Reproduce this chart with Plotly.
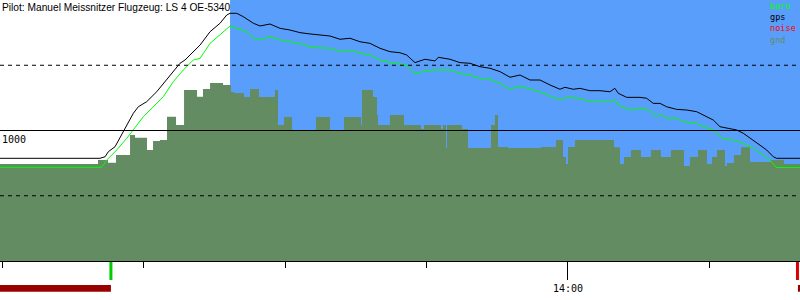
import plotly.graph_objects as go

# ---- data (time in minutes after 13:00, altitude in metres) ----
gnd_t = [-0.3, 10.13, 11.19, 12.04, 13.53, 14.06, 15.33, 15.97, 16.71, 17.45, 18.41, 19.26, 20.64, 21.27,
         22.02, 23.40, 24.24, 24.56, 25.62, 26.26, 27.21, 28.91, 29.23, 29.87, 30.72, 33.26, 34.75, 36.23,
         38.04, 38.14, 39.31, 39.73, 39.84, 41.11, 42.60, 44.40, 44.72, 46.53, 46.74, 47.06, 47.16, 48.75,
         49.39, 51.83, 52.25, 52.57, 53.64, 57.14, 58.73, 59.47, 59.79, 60.0, 60.74, 64.88, 65.52, 65.94,
         66.68, 67.74, 68.80, 69.86, 70.92, 72.31, 72.94, 73.79, 74.75, 75.28, 75.81, 76.66, 76.87, 77.61,
         78.36, 79.31, 81.54, 82.92, 84.7]
gnd_alt = [743, 774, 753, 812, 966, 945, 851, 920, 927, 1106, 1042, 1310, 1259, 1318,
           1364, 1349, 1295, 1287, 1257, 1318, 1257, 1310, 1042, 1103, 1000, 1103, 1000, 1103,
           1042, 1310, 1257, 1119, 1042, 1119, 1042, 1012, 1042, 1012, 1042, 866, 1042, 1012,
           866, 1042, 1119, 874, 866, 874, 927, 797, 743, 874, 927, 871, 743, 797,
           851, 797, 851, 797, 851, 728, 797, 851, 743, 797, 851, 728, 751, 812,
           871, 759, 774, 743, 743]

gps_t = [-0.3, 10.34, 10.88, 11.23, 11.94, 12.82, 13.18, 13.88, 14.41, 15.30, 16.36, 17.42, 18.12, 18.83,
         19.36, 20.96, 22.02, 23.08, 23.79, 24.14, 24.85, 25.55, 26.61, 27.32, 28.38, 29.44, 30.50, 31.56,
         32.62, 34.75, 35.81, 36.87, 37.93, 38.99, 40.05, 41.11, 42.17, 42.88, 43.76, 44.83, 45.89, 46.24,
         47.48, 48.54, 49.60, 50.66, 51.72, 52.79, 53.85, 54.91, 55.97, 57.03, 58.09, 59.15, 59.68, 60.56,
         61.27, 62.33, 63.40, 64.45, 64.98, 65.34, 66.23, 67.64, 68.35, 69.05, 69.76, 70.47, 71.53, 72.59,
         73.66, 74.36, 75.42, 76.13, 76.84, 77.90, 78.60, 79.66, 81.08, 81.78, 82.14, 84.7]
gps_alt = [787, 787, 799, 838, 876, 991, 1029, 1132, 1182, 1221, 1297, 1387, 1451, 1515,
           1540, 1655, 1757, 1822, 1885, 1898, 1898, 1872, 1822, 1801, 1816, 1783, 1770, 1750,
           1740, 1724, 1699, 1707, 1680, 1668, 1630, 1604, 1596, 1579, 1520, 1546, 1533, 1561,
           1546, 1520, 1515, 1489, 1477, 1451, 1408, 1425, 1387, 1387, 1349, 1316, 1331, 1316,
           1323, 1305, 1305, 1297, 1323, 1285, 1254, 1254, 1247, 1208, 1208, 1182, 1162, 1157,
           1144, 1119, 1080, 1029, 1017, 1004, 979, 927, 851, 799, 787, 787]

baro_t = [-0.3, 10.53, 11.06, 12.12, 13.18, 13.88, 14.94, 16.0, 17.06, 18.12, 19.18, 20.24, 20.96, 22.02,
          23.08, 24.14, 24.85, 25.91, 26.61, 27.32, 28.38, 29.44, 30.50, 31.56, 32.62, 34.75, 35.81, 36.87,
          37.93, 38.99, 40.05, 41.11, 42.17, 42.88, 43.76, 44.83, 46.07, 47.48, 48.54, 49.60, 50.66, 51.72,
          52.79, 53.85, 54.91, 55.97, 57.03, 58.09, 59.15, 59.86, 61.27, 62.33, 63.40, 64.63, 64.98, 65.34,
          66.58, 68.35, 69.41, 69.76, 70.47, 71.53, 72.23, 73.66, 74.36, 75.42, 75.78, 76.48, 77.54, 78.60,
          79.66, 80.72, 81.43, 81.96, 82.14, 84.7]
baro_alt = [718, 718, 774, 851, 940, 1004, 1106, 1182, 1259, 1374, 1464, 1540, 1553, 1668,
            1732, 1801, 1783, 1757, 1707, 1694, 1719, 1694, 1680, 1668, 1638, 1630, 1604, 1617,
            1592, 1579, 1540, 1520, 1510, 1502, 1433, 1458, 1464, 1464, 1438, 1425, 1400, 1392,
            1362, 1316, 1341, 1316, 1297, 1264, 1234, 1254, 1247, 1221, 1221, 1221, 1239, 1195,
            1157, 1170, 1106, 1126, 1094, 1094, 1067, 1055, 1029, 1004, 979, 933, 927, 902,
            864, 812, 774, 728, 716, 716]

takeoff_t = 11.5
landing_t = 84.35
task_start_t = 24.14
x_range = [-0.27, 84.62]
alt_range = [0, 2000]
grid_dashed = [500, 1500]
grid_solid = [1000]
major_ticks = [60]
major_labels = ["14:00"]
minor_ticks = [0, 15, 30, 45, 75]
title_text = "Pilot: Manuel Meissnitzer Flugzeug: LS 4 OE-5340"
legend_items = ["baro", "gps", "noise", "gnd"]
legend_colors = ["#00ff00", "#000000", "#ff0000", "#638c63"]

GND = "#638c63"
BLUE = "#5a9efb"
PLOT_H = 261.0  # plot area height in px (paper coords are relative to it)


def below(px):
    """paper-y for a pixel distance below the x-axis line"""
    return -px / PLOT_H


fig = go.Figure()
fig.add_trace(go.Scatter(x=gnd_t, y=gnd_alt, mode="lines", line=dict(width=0, shape="hv"),
                         fill="tozeroy", fillcolor=GND, hoverinfo="skip"))
fig.add_trace(go.Scatter(x=gps_t, y=gps_alt, mode="lines", line=dict(color="black", width=1)))
fig.add_trace(go.Scatter(x=baro_t, y=baro_alt, mode="lines", line=dict(color="#00ff00", width=1)))

shapes = [dict(type="rect", xref="x", yref="y", x0=task_start_t, x1=x_range[1] + 1,
               y0=alt_range[0], y1=alt_range[1], fillcolor=BLUE, line_width=0, layer="below")]
for v in grid_dashed:
    shapes.append(dict(type="line", xref="paper", yref="y", x0=0, x1=1, y0=v, y1=v,
                       line=dict(color="black", width=1, dash="4px,4px"), layer="above"))
for v in grid_solid:
    shapes.append(dict(type="line", xref="paper", yref="y", x0=0, x1=1, y0=v, y1=v,
                       line=dict(color="black", width=1), layer="above"))
# takeoff / landing markers below the axis
shapes.append(dict(type="line", xref="x", yref="paper", x0=takeoff_t, x1=takeoff_t,
                   y0=below(1), y1=below(19), line=dict(color="#00cc00", width=3)))
shapes.append(dict(type="line", xref="x", yref="paper", x0=landing_t, x1=landing_t,
                   y0=below(1), y1=below(19), line=dict(color="#dd0000", width=3)))
shapes.append(dict(type="rect", xref="x", yref="paper", x0=x_range[0], x1=takeoff_t,
                   y0=below(30.7), y1=below(24), fillcolor="#990000", line_width=0))
shapes.append(dict(type="rect", xref="x", yref="paper", x0=landing_t + 0.05, x1=x_range[1],
                   y0=below(30.7), y1=below(24), fillcolor="#990000", line_width=0))

legend_html = "<br>".join(f"<span style='color:{c}'>{t}</span>" for t, c in zip(legend_items, legend_colors))
annotations = [
    dict(text=title_text, xref="paper", yref="paper", x=0, y=1, xanchor="left", yanchor="top",
         showarrow=False, font=dict(family="Liberation Sans", size=10.2, color="black")),
    dict(text="1000", xref="paper", yref="y", x=0, y=1000, xanchor="left", yanchor="top",
         showarrow=False, yshift=-1, font=dict(family="DejaVu Sans Mono", size=10, color="black")),
    dict(text=legend_html, xref="paper", yref="paper", x=768 / 800, y=1.005, xanchor="left",
         yanchor="top", align="left", showarrow=False,
         font=dict(family="DejaVu Sans Mono", size=8.6, color="black")),
]

fig.update_layout(
    width=800, height=300, margin=dict(l=0, r=0, t=0, b=39),
    plot_bgcolor="white", paper_bgcolor="white", showlegend=False,
    shapes=shapes, annotations=annotations,
    xaxis=dict(range=x_range, showgrid=False, zeroline=False, showline=True, linecolor="black",
               linewidth=1, ticks="outside", tickvals=major_ticks, ticktext=major_labels,
               ticklen=18, tickwidth=1, tickcolor="black",
               tickfont=dict(family="DejaVu Sans Mono", size=10, color="black"),
               minor=dict(tickvals=minor_ticks, ticklen=6, tickwidth=1, tickcolor="black",
                          ticks="outside", showgrid=False)),
    yaxis=dict(range=alt_range, visible=False, showgrid=False, zeroline=False),
)
fig.write_html("out.html")
